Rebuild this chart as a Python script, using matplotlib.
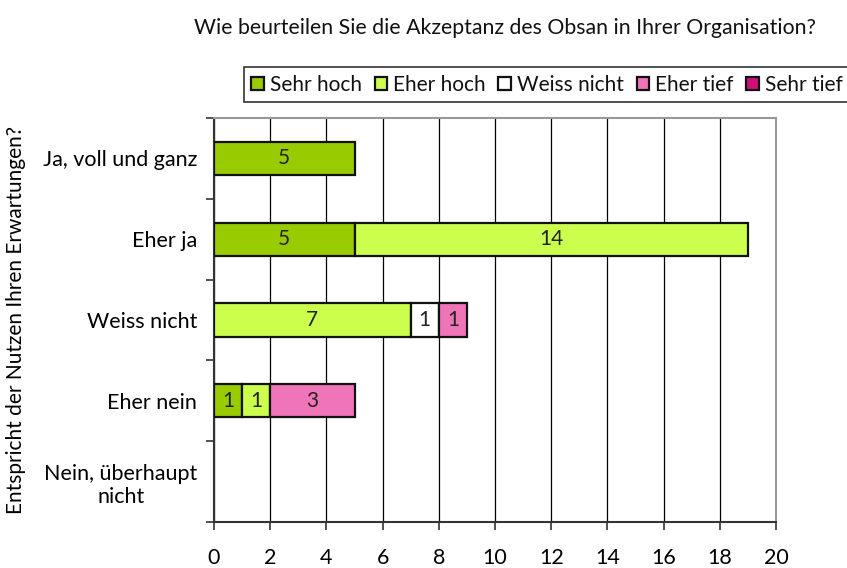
import matplotlib.pyplot as plt
import numpy as np

plt.rcParams['font.family'] = ['Lato', 'DejaVu Sans']
plt.rcParams['text.color'] = '#111111'

# categories top to bottom
categories = ['Ja, voll und ganz', 'Eher ja', 'Weiss nicht', 'Eher nein', 'Nein, überhaupt\nnicht']
series = ['Sehr hoch', 'Eher hoch', 'Weiss nicht', 'Eher tief', 'Sehr tief']
colors = ['#99CC00', '#CCFF4D', '#FFFFFF', '#F075B8', '#D0107A']

sehr_hoch = [5, 5, 0, 1, 0]
eher_hoch = [0, 14, 7, 1, 0]
weiss_nicht = [0, 0, 1, 0, 0]
eher_tief = [0, 0, 1, 3, 0]
sehr_tief = [0, 0, 0, 0, 0]
values = [sehr_hoch, eher_hoch, weiss_nicht, eher_tief, sehr_tief]

xticks = np.arange(0, 21, 2)

fig = plt.figure(figsize=(8.47, 5.68), dpi=100)
ax = fig.add_axes([214 / 847, 1 - 522 / 568, 562 / 847, 404 / 568])

y = np.arange(len(categories))
left = np.zeros(len(categories))
for name, vals, col in zip(series, values, colors):
    vals = np.array(vals, dtype=float)
    nz = vals > 0
    # legend entry even if the series is empty
    ax.barh([np.nan], [0], color=col, edgecolor='#111111', linewidth=1.6, label=name)
    bars = ax.barh(y[nz], vals[nz], left=left[nz], height=0.41, color=col, edgecolor='#111111',
                   linewidth=1.6, zorder=3)
    for b, v in zip(bars, vals[nz]):
        ax.text(b.get_x() + b.get_width() / 2, b.get_y() + b.get_height() / 2,
                '%d' % v, ha='center', va='center', fontsize=15, color='#222222', zorder=4)
    left += vals

ax.set_xlim(0, 20)
ax.set_ylim(len(categories) - 0.5, -0.5)
ax.set_xticks(xticks)
ax.set_xticklabels([str(t) for t in xticks], fontsize=15.5)
ax.set_yticks(y)
ax.set_yticklabels(categories, fontsize=15.5, multialignment='center')
ax.set_yticks(np.arange(-0.5, len(categories), 1), minor=True)
ax.tick_params(axis='y', which='major', length=0, pad=12)
ax.tick_params(axis='y', which='minor', length=6, width=1.2, color='#333333')
ax.tick_params(axis='x', length=6, width=1.2, color='#333333', pad=13)

ax.grid(axis='x', color='#000000', linewidth=0.9, zorder=0)
for s in ['left', 'bottom']:
    ax.spines[s].set_color('#333333')
    ax.spines[s].set_linewidth(1.5)
for s in ['top', 'right']:
    ax.spines[s].set_color('#999999')
    ax.spines[s].set_linewidth(1.5)

ax.set_ylabel('Entspricht der Nutzen Ihren Erwartungen?', fontsize=15)
ax.yaxis.set_label_coords(-0.335, 0.5)

fig.text(0.596, 0.95, 'Wie beurteilen Sie die Akzeptanz des Obsan in Ihrer Organisation?',
         ha='center', va='center', fontsize=15.3)

leg = ax.legend(loc='lower left', bbox_to_anchor=(244 / 847, 1 - 102 / 568), bbox_transform=fig.transFigure,
                ncol=5, fontsize=15, frameon=True, fancybox=False, handlelength=0.6, handleheight=0.6,
                handletextpad=0.3, columnspacing=0.6, borderpad=0.35, borderaxespad=0)
leg.get_frame().set_edgecolor('#000000')
leg.get_frame().set_linewidth(1.2)

plt.savefig('out.png', dpi=100)
